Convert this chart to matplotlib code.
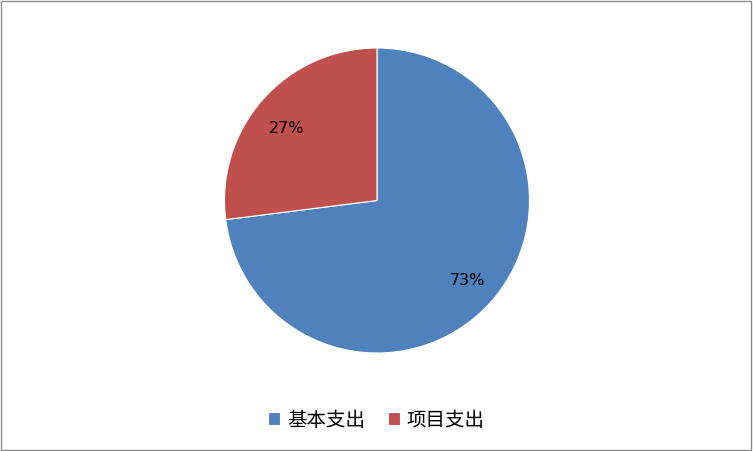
import matplotlib.pyplot as plt
from matplotlib.patches import Rectangle

plt.rcParams['font.family'] = ['Noto Sans CJK SC', 'DejaVu Sans']

# data
labels = ['基本支出', '项目支出']
values = [73, 27]
colors = ['#4F81BD', '#C0504D']

fig = plt.figure(figsize=(7.53, 4.51), dpi=100)
fig.patch.set_facecolor('white')

# pie axes: square, placed by pixel position
ax = fig.add_axes([224.5 / 753, (451 - 353) / 451, 305 / 753, 305 / 451])
wedges, texts, autotexts = ax.pie(values, colors=colors, startangle=90, counterclock=False,
                                  autopct='%1.0f%%', pctdistance=0.79, radius=1.0,
                                  wedgeprops=dict(linewidth=0.8, edgecolor='white'),
                                  textprops=dict(fontsize=11.5, color='black', family='DejaVu Sans'))
# nudge the small slice label a bit lower like the original
autotexts[1].set_position((autotexts[1].get_position()[0], autotexts[1].get_position()[1] - 0.05))
ax.set_xlim(-1, 1)
ax.set_ylim(-1, 1)
ax.set_aspect('equal')
ax.axis('off')

# legend
leg = fig.legend(wedges, labels, loc='center', bbox_to_anchor=(0.5, 1 - 420 / 451),
                 ncol=2, frameon=False, fontsize=14, handlelength=0.6, handleheight=0.6,
                 handletextpad=0.35, columnspacing=1.2)

# outer border
fig.add_artist(Rectangle((0.001, 0.002), 0.997, 0.995, transform=fig.transFigure,
                         fill=False, edgecolor='#8C8C8C', linewidth=1))

fig.savefig('out.png', dpi=100)
